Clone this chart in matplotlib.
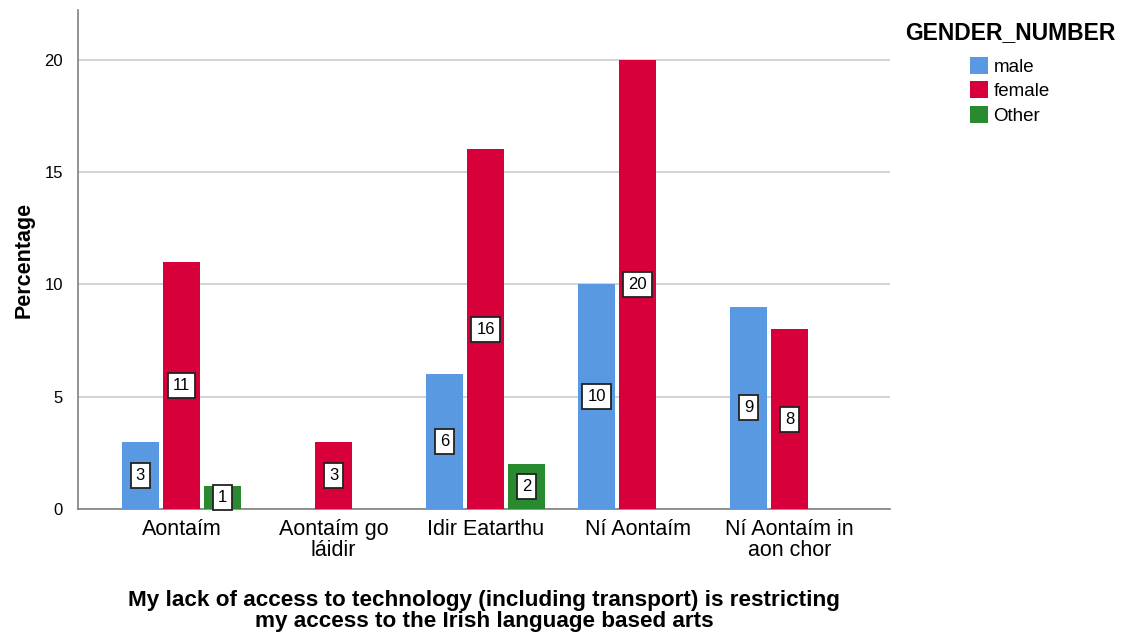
import numpy as np
import matplotlib
matplotlib.use('Agg')
import matplotlib.pyplot as plt

plt.rcParams['font.family'] = ['Liberation Sans', 'DejaVu Sans']

categories = ["Aontaím", "Aontaím go\nláidir", "Idir Eatarthu", "Ní Aontaím", "Ní Aontaím in\naon chor"]
male = [3, np.nan, 6, 10, 9]
female = [11, 3, 16, 20, 8]
other = [1, np.nan, 2, np.nan, np.nan]

series = [("male", male, "#5899e2"), ("female", female, "#d7003a"), ("Other", other, "#2a8a30")]

fig = plt.figure(figsize=(11.23, 6.33), dpi=100)
ax = fig.add_axes([0.0695, 0.196, 0.723, 0.788])

x = np.arange(len(categories))
width = 0.245
offsets = [-0.27, 0.0, 0.27]

for (name, vals, col), off in zip(series, offsets):
    vals = np.array(vals, dtype=float)
    ax.bar(x + off, vals, width, color=col, label=name, zorder=3)
    for xi, v in zip(x + off, vals):
        if np.isnan(v):
            continue
        ax.text(xi, v / 2, f"{int(v)}", ha='center', va='center', fontsize=12, zorder=5,
                bbox=dict(boxstyle='square,pad=0.3', fc='white', ec='#222222', lw=1.3))

ax.set_xlim(-0.68, 4.66)
ax.set_ylim(0, 22.2)
ax.set_yticks([0, 5, 10, 15, 20])
ax.set_xticks(x)
ax.set_xticklabels(categories, fontsize=15.5, linespacing=1.05)
ax.tick_params(axis='y', labelsize=12, length=0, pad=11)
ax.tick_params(axis='x', length=0, pad=7)
ax.yaxis.grid(True, color='#cccccc', lw=1.2, zorder=0)
ax.set_axisbelow(True)

for s in ['top', 'right']:
    ax.spines[s].set_visible(False)
for s in ['left', 'bottom']:
    ax.spines[s].set_color('#808080')
    ax.spines[s].set_linewidth(1.2)

ax.set_ylabel("Percentage", fontsize=15.5, fontweight='bold', labelpad=7)

# x-axis title (two lines, bold)
fig.text(484 / 1123, 1 - 611 / 633,
         "My lack of access to technology (including transport) is restricting\nmy access to the Irish language based arts",
         ha='center', va='center', fontsize=16.2, fontweight='bold', linespacing=1.0)

# legend
fig.text(1010 / 1123, 1 - 33 / 633, "GENDER_NUMBER", ha='center', va='center',
         fontsize=16.5, fontweight='bold')
ax.legend(loc='upper left', bbox_to_anchor=(970 / 1123, 1 - 57 / 633), bbox_transform=fig.transFigure,
          frameon=False, fontsize=13.5, handlelength=0.95, handleheight=1.0,
          handletextpad=0.3, labelspacing=0.3, borderaxespad=0, borderpad=0)

fig.savefig("out.png", dpi=100)
